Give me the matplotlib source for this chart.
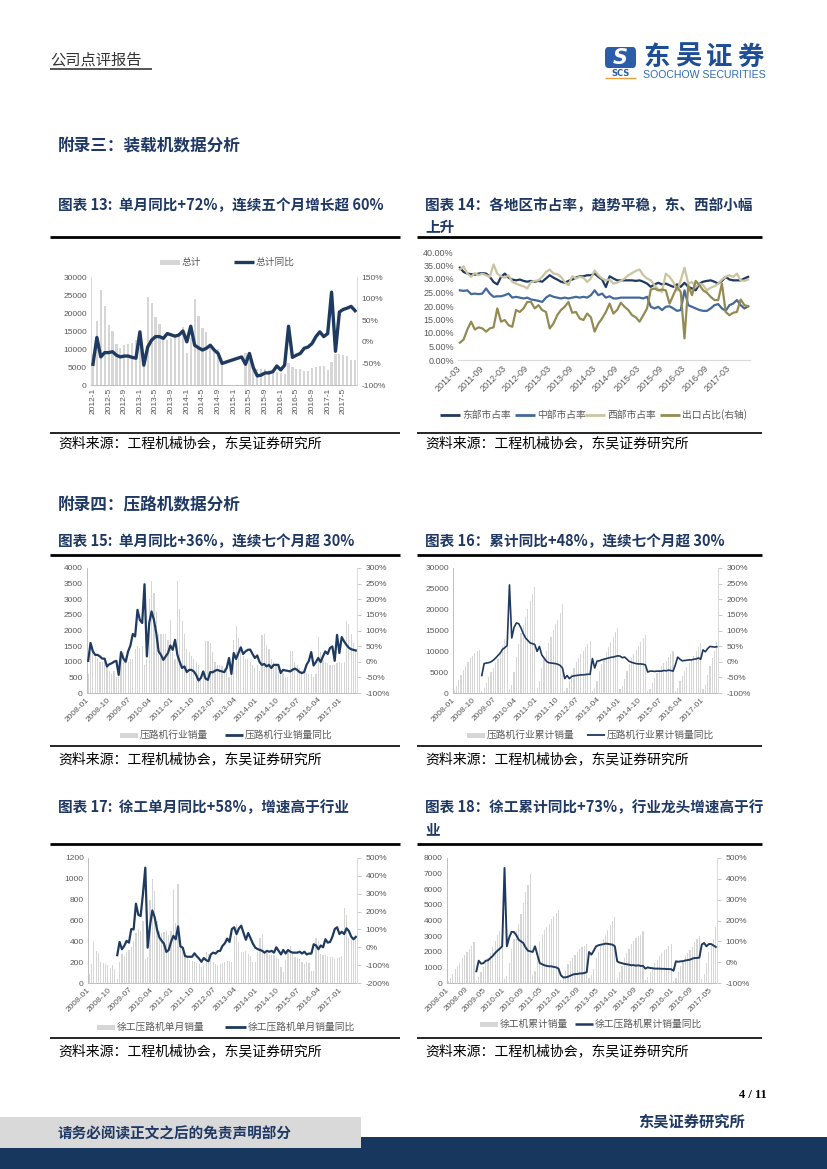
import numpy as np
import matplotlib
matplotlib.use('Agg')
import matplotlib.pyplot as plt
from matplotlib.patches import Rectangle, FancyBboxPatch
from matplotlib.lines import Line2D
from matplotlib.ticker import FuncFormatter

plt.rcParams['font.family'] = ['Noto Sans CJK SC', 'DejaVu Sans']
plt.rcParams['axes.unicode_minus'] = False

nan = np.nan

# ---------------- 数据 ----------------
# 图表13 装载机 2012-1 ~ 2017-8
total13 = [8500, 17800, 26300, 22000, 16600, 15000, 11500, 10400, 11000, 11300, 11700, 12500,
           10500, 8200, 24500, 22700, 19000, 17000, 13500, 12500, 13000, 13000, 14000, 16000,
           8800, 13000, 24000, 19200, 15700, 14800, 11000, 10000, 10000, 6500, nan, nan,
           nan, nan, nan, 8800, 7000, 6000, 4500, 4500, 4500, 4300, 4000, 3500,
           3300, 3000, 6000, 5000, 4500, 4500, 4000, 4000, 4700, 5000, 5300, 5400,
           4200, 6500, 8500, 8500, 8200, 8000, 7000, 7000]
yoy13 = [-52, 10, -35, -25, -25, -23, -31, -35, -33, -33, -36, -38,
         23, -54, -12, 4, 12, 12, 8, 19, 16, 13, 16, 25,
         0, 36, -8, -14, -19, -15, -8, -19, -27, -50, -47, -44,
         -41, -38, -35, -52, -27, -60, -79, -77, -72, -72, -69, -56,
         -65, -54, 36, -36, -31, -27, -15, -12, -4, 12, 23, 12,
         19, 115, -22, 69, 75, 78, 82, 72]
ticks13 = ['2012-1', '2012-5', '2012-9', '2013-1', '2013-5', '2013-9', '2014-1', '2014-5',
           '2014-9', '2015-1', '2015-5', '2015-9', '2016-1', '2016-5', '2016-9', '2017-1', '2017-5']

# 图表14 各地区市占率 2011-03 ~ 2017-08 (%)
east14 = [34.2, 32.6, 32.0, 31.8, 31.6, 32.0, 32.2, 32.0, 30.8, 28.9, 28.0, 30.8,
          32.0, 30.5, 29.8, 29.5, 29.8, 29.3, 29.0, 29.3, 29.0, 29.3, 29.0, 30.2,
          31.4, 30.5, 29.8, 29.0, 28.6, 29.3, 29.8, 30.5, 31.0, 31.0, 31.4, 31.4,
          32.0, 30.8, 29.8, 27.0, 31.0, 30.2, 29.5, 29.5, 29.5, 29.5, 29.5, 29.3,
          29.5, 29.0, 28.3, 27.1, 28.0, 28.6, 28.0, 28.3, 27.7, 27.1, 28.0, 27.1,
          28.6, 27.1, 26.5, 25.8, 28.3, 29.0, 29.3, 29.5, 29.0, 28.3, 29.3, 30.8,
          29.8, 29.5, 29.5, 29.5, 30.2, 30.8]
mid14 = [25.8, 25.6, 25.8, 24.4, 24.6, 24.4, 24.6, 26.5, 24.6, 23.4, 23.6, 23.6,
         24.0, 24.6, 23.1, 23.4, 23.1, 22.8, 23.1, 22.4, 22.2, 21.9, 21.5, 23.1,
         24.0, 23.4, 23.1, 22.8, 23.1, 22.8, 23.1, 23.4, 23.1, 23.4, 23.1, 24.0,
         25.8, 24.0, 24.6, 23.1, 23.6, 22.8, 22.8, 23.1, 23.1, 23.1, 23.1, 23.1,
         23.1, 22.8, 23.4, 19.7, 19.1, 19.7, 18.5, 19.7, 19.9, 19.1, 18.2, 18.5,
         25.8, 20.3, 19.7, 19.1, 18.5, 18.2, 18.2, 19.1, 20.3, 20.7, 19.1, 18.2,
         20.3, 20.9, 22.2, 20.3, 19.1, 19.9]
west14 = [33.5, 34.7, 32.0, 30.8, 32.2, 31.4, 32.0, 31.4, 30.8, 35.4, 32.0, 31.0,
          30.5, 31.4, 28.9, 28.3, 27.7, 27.3, 26.5, 28.9, 29.3, 29.5, 30.8, 32.6,
          33.5, 32.0, 31.8, 30.8, 28.9, 27.7, 31.0, 30.2, 30.8, 30.5, 28.9, 30.2,
          33.2, 31.4, 30.2, 29.5, 29.8, 28.3, 28.6, 29.3, 30.2, 31.4, 32.2, 33.0,
          33.5, 31.4, 30.2, 29.5, 27.7, 26.1, 25.2, 32.0, 30.8, 28.9, 25.8, 29.5,
          34.2, 28.3, 28.9, 27.1, 28.3, 27.7, 25.8, 26.8, 27.3, 28.3, 29.8, 30.8,
          31.4, 30.8, 32.0, 29.5, 29.3, 29.8]
export14 = [6.4, 7.6, 11.3, 14.2, 11.3, 12.1, 11.7, 10.5, 11.7, 12.1, 19.1, 14.2,
            14.8, 12.9, 12.3, 18.5, 17.8, 19.1, 21.5, 21.5, 19.1, 20.3, 18.5, 17.8,
            11.7, 13.5, 16.6, 18.5, 19.7, 21.5, 17.5, 17.8, 15.4, 14.8, 17.2, 15.8,
            10.5, 13.5, 15.4, 17.8, 20.9, 17.2, 18.5, 21.2, 19.7, 18.5, 16.6, 15.8,
            14.2, 16.6, 19.1, 26.1, 26.5, 25.8, 26.1, 25.8, 20.9, 24.0, 27.1, 25.2,
            8.0, 27.7, 24.0, 29.3, 27.7, 25.8, 24.9, 23.4, 22.2, 22.2, 28.3, 17.8,
            16.6, 17.5, 17.8, 22.4, 20.3, 19.9]
ticks14 = ['2011-03', '2011-09', '2012-03', '2012-09', '2013-03', '2013-09', '2014-03',
           '2014-09', '2015-03', '2015-09', '2016-03', '2016-09', '2017-03']
names14 = ['东部市占率', '中部市占率', '西部市占率', '出口占比(右轴)']

# 图表15 压路机行业单月销量 2008-01 ~ 2017-07
sales15 = [600, 1300, 1400, 1200, 1100, 1000, 1000, 1000, 900, 700, 600, 700,
           500, 700, 1300, 1300, 1200, 1000, 1100, 1100, 1400, 1500, 1450, 1500,
           900, 1100, 3000, 3600, 3200, 2600, 1900, 1900, 1900, 1900, 1700, 2350,
           1300, 1100, 3600, 2700, 2300, 1900, 1400, 1300, 1200, 1100, 1000, 900,
           500, 700, 1650, 1650, 1600, 1300, 1000, 900, 900, 850, 800, 700,
           500, 600, 1700, 2150, 1750, 1500, 1200, 1100, 1100, 1000, 900, 800,
           900, 700, 1850, 1900, 1550, 1400, 1100, 1000, 900, 800, 700, 650,
           500, 500, 1350, 1350, 1000, 900, 800, 700, 700, 650, 600, 600,
           500, 600, 1800, 1300, 1050, 1000, 950, 900, 900, 900, 950, 1000,
           950, 1000, 2300, 2200, 1900, 1600, 1400]
yoy15 = [3, 60, 33, 22, 22, 17, 10, 10, -15, -8, -5, 0,
         3, -42, 31, 10, 0, 33, 52, 89, 81, 166, 134, 124,
         248, 17, 124, 161, 134, 92, 33, 22, 6, 17, 28, 52,
         38, 70, 22, -1, -20, -15, -33, -26, -26, -31, -42, -60,
         -52, -31, -54, -58, -33, -34, -29, -26, -29, -31, -33, -20,
         12, -39, 28, 9, 28, 46, 25, 33, 38, 39, 25, 12,
         20, -1, -10, -7, -15, -10, -20, -10, -10, -10, -36, -26,
         -28, -29, -31, -26, -22, -26, -33, -36, -33, -10, 3, 31,
         -12, -1, 12, -1, 17, 33, 25, 44, 49, 3, 86, 28,
         79, 65, 54, 45, 40, 38, 36]
ticks9 = ['2008-01', '2008-10', '2009-07', '2010-04', '2011-01', '2011-10', '2012-07',
          '2013-04', '2014-01', '2014-10', '2015-07', '2016-04', '2017-01']

# 图表16 压路机行业累计销量
cum16 = [700, 1800, 3200, 4400, 5500, 6500, 7400, 8300, 9000, 9600, 10000, 10400,
         500, 1200, 2500, 3800, 5000, 6000, 7100, 8200, 9700, 11200, 13000, 15000,
         900, 2000, 5000, 8600, 11800, 14400, 16300, 18200, 20100, 22000, 23700, 25400,
         1300, 2800, 6000, 8700, 10000, 12000, 13500, 15200, 16500, 17600, 19200, 21400,
         500, 1200, 2900, 4500, 6100, 7400, 8400, 9300, 10200, 11000, 11800, 12500,
         600, 1300, 3000, 5200, 7000, 8500, 9800, 11000, 12200, 13400, 14600, 15600,
         900, 1600, 3400, 5300, 6900, 8300, 9400, 10400, 11300, 12200, 13100, 14000,
         500, 1000, 2300, 3700, 4700, 5600, 6400, 7100, 7800, 8600, 9400, 10200,
         500, 1100, 2900, 4200, 5200, 6200, 7200, 8100, 9000, 10000, 11000, 12000,
         1000, 2000, 4300, 6500, 8400, 10000, 12200]
yoy16 = [nan] * 12 + [
    -44, -6, -4, -3, 0, 5, 12, 20, 28, 40, 45, 52,
    246, 76, 110, 124, 122, 108, 90, 76, 68, 60, 58, 55,
    33, 49, 22, 12, 2, -3, -4, -5, -6, -8, -12, -20,
    -54, -44, -54, -47, -45, -44, -43, -42, -42, -41, -40, -40,
    10, -20, 2, 3, 6, 8, 10, 12, 14, 15, 17, 19,
    18, 13, 15, 8, 1, -2, -4, -6, -7, -7, -8, -10,
    -33, -30, -30, -31, -30, -30, -30, -28, -29, -27, -28, -30,
    -10, 15, 8, 3, 4, 5, 6, 6, 8, 9, 12, 8,
    38, 32, 42, 49, 48, 47, 48]

# 图表17 徐工压路机单月销量
sales17 = [90, 180, 400, 310, 290, 200, 195, 180, 170, 145, 170, 130,
           40, 200, 280, 260, 300, 320, 350, 400, 480, 520, 500, 600,
           230, 250, 800, 1000, 880, 600, 500, 480, 490, 500, 460, 500,
           900, 580, 950, 400, 300, 260, 240, 220, 210, 200, 190, 180,
           150, 170, 300, 280, 250, 200, 180, 170, 180, 190, 200, 210,
           210, 200, 450, 570, 380, 300, 300, 310, 280, 260, 200, 200,
           300, 430, 470, 300, 290, 270, 270, 270, 250, 230, 150, 110,
           220, 300, 357, 300, 250, 240, 230, 200, 180, 200, 190, 120,
           120, 430, 400, 280, 270, 270, 260, 250, 250, 230, 240, 250,
           260, 720, 650, 430, 420, 430, 440]
yoy17 = [nan] * 12 + [
    -44, 30, -11, 8, 36, 26, 102, 100, 244, 182, 175, 300,
    446, -2, 121, 206, 168, 100, 55, 36, 20, -26, -15, 30,
    64, 45, 117, 5, -2, -49, -53, -53, -53, -34, -50, -64,
    -81, -60, -72, -78, -40, -30, -35, -22, -20, 8, 22, 49,
    30, 102, 112, 74, 105, 121, 80, 42, 80, 50, 20, -2,
    -10, -15, -20, -30, -20, -25, -20, -30, 0, -20, -40, -15,
    -35, -15, -25, -30, -30, -30, -25, -35, -25, -40, -35, -35,
    17, 10, -11, 10, 0, 45, 26, 30, 60, 102, 112, 74,
    87, 74, 106, 92, 60, 45, 58]

# 图表18 徐工压路机累计销量
cum18 = [100, 300, 600, 900, 1100, 1300, 1600, 1800, 2000, 2200, 2400, 2600,
         150, 400, 700, 1000, 1300, 1600, 1900, 2300, 2700, 3100, 3300, 3500,
         250, 450, 1300, 2200, 2800, 3300, 3800, 4400, 5100, 5800, 6300, 7000,
         500, 800, 1700, 2700, 3100, 3400, 3600, 3800, 4100, 4300, 4500, 4700,
         200, 400, 800, 1200, 1400, 1600, 1800, 2000, 2200, 2300, 2400, 2500,
         300, 500, 900, 1600, 2000, 2400, 2800, 3100, 3400, 3700, 4000, 4200,
         350, 700, 1100, 1600, 1900, 2200, 2500, 2700, 2900, 3000, 3100, 3300,
         200, 400, 700, 1000, 1300, 1500, 1700, 1900, 2100, 2200, 2400, 2500,
         150, 350, 700, 1100, 1400, 1700, 1900, 2100, 2300, 2600, 2800, 3000,
         250, 600, 1300, 2000, 2400, 2800, 3600]
yoy18 = [nan] * 12 + [
    -44, 7, -7, -5, 7, 9, 20, 30, 44, 55, 65, 76,
    452, 76, 119, 145, 145, 130, 108, 100, 92, 70, 55, 52,
    49, 76, 35, -4, -10, -15, -18, -20, -20, -23, -25, -31,
    -63, -73, -73, -70, -65, -60, -57, -57, -54, -54, -52, -48,
    49, 36, 55, 76, 81, 84, 86, 89, 88, 86, 84, 76,
    4, -2, -5, -8, -10, -12, -15, -14, -17, -15, -18, -18,
    -31, -25, -28, -29, -31, -31, -31, -32, -32, -33, -33, -34,
    -41, 4, 2, 4, 5, 8, 10, 12, 17, 20, 20, 22,
    84, 92, 76, 87, 87, 80, 73]
ticks8 = ['2008-01', '2008-09', '2009-05', '2010-01', '2010-09', '2011-05', '2012-01', '2012-09',
          '2013-05', '2014-01', '2014-09', '2015-05', '2016-01', '2016-09', '2017-05']

# ---------------- 样式 ----------------
W, H = 827, 1169
NAVY = '#1F3A60'
BLUE = '#44699B'
BEIGE = '#CBC4A2'
OLIVE = '#948A54'
BAR = '#D6D6D6'
TXT = '#595959'
TITLE = '#1F3864'
AXIS = '#BFBFBF'
TICKFONT = ['Liberation Sans', 'DejaVu Sans']

fig = plt.figure(figsize=(W / 100, H / 100), dpi=100)


def fx(x):
    return x / W


def fy(y):
    return 1 - y / H


def put(x, y, s, size=10, weight='normal', color='black', ha='left', va='center', family=None, **kw):
    if family:
        kw['family'] = family
    fig.text(fx(x), fy(y), s, fontsize=size, fontweight=weight, color=color, ha=ha, va=va, **kw)


def hline(x0, x1, y, lw=1.0, color='black'):
    fig.add_artist(Line2D([fx(x0), fx(x1)], [fy(y), fy(y)], lw=lw, color=color, solid_capstyle='butt'))


def rect(x0, y0, x1, y1, color):
    fig.add_artist(Rectangle((fx(x0), fy(y1)), (x1 - x0) / W, (y1 - y0) / H, color=color, lw=0))


def add_ax(x0, y0, x1, y1):
    return fig.add_axes([fx(x0), fy(y1), (x1 - x0) / W, (y1 - y0) / H])


def leg_bar(x0, x1, y, label, size=7):
    rect(x0, y - 2.5, x1, y + 2.5, BAR)
    put(x1 + 2, y, label, size=size, color=TXT)


def leg_line(x0, x1, y, label, color=NAVY, lw=2.0, size=7):
    hline(x0, x1, y, lw=lw, color=color)
    put(x1 + 2, y, label, size=size, color=TXT)


def dual_chart(box, bars, line, lmax, lstep, rlim, rstep, ticks, step, rot, lw,
               bar_w=0.55, right_ticks=True, tsize=6):
    ax = add_ax(*box)
    n = len(bars)
    x = np.arange(n)
    b = np.array(bars, dtype=float)
    ok = ~np.isnan(b)
    ax.bar(x[ok], b[ok], width=bar_w, color=BAR, linewidth=0)
    ax.set_xlim(-0.5, n - 0.5)
    ax.set_ylim(0, lmax)
    ax.set_yticks(np.arange(0, lmax + 1, lstep))
    ax.set_xticks(np.arange(0, n, step)[:len(ticks)])
    if rot == 90:
        ax.set_xticklabels(ticks, rotation=90, ha='center', va='top')
    else:
        ax.set_xticklabels(ticks, rotation=45, ha='right', va='center', rotation_mode='anchor')
    ax2 = ax.twinx()
    ax2.plot(x, line, color=NAVY, lw=lw)
    ax2.set_xlim(-0.5, n - 0.5)
    ax2.set_ylim(*rlim)
    ax2.set_yticks(np.arange(rlim[0], rlim[1] + 1, rstep))
    ax2.yaxis.set_major_formatter(FuncFormatter(lambda v, p: f'{v:.0f}%'))
    for a in (ax, ax2):
        for s in a.spines.values():
            s.set_visible(False)
        a.tick_params(labelsize=tsize, labelcolor=TXT, labelfontfamily=TICKFONT, length=0, pad=3)
    ax.tick_params(axis='x', pad=4 if rot == 45 else 2)
    ax.spines['left'].set_visible(True)
    ax.spines['left'].set_color(AXIS)
    ax.spines['left'].set_linewidth(0.7)
    ax.spines['bottom'].set_visible(True)
    ax.spines['bottom'].set_color(AXIS)
    ax.spines['bottom'].set_linewidth(0.7)
    ax2.spines['right'].set_visible(True)
    ax2.spines['right'].set_color('#D9D9D9')
    ax2.spines['right'].set_linewidth(0.7)
    if right_ticks:
        ax2.tick_params(axis='y', length=3, width=0.6, color=AXIS)
    return ax, ax2


# ---------------- 页眉 ----------------
put(50, 60, '公司点评报告', size=11, color='#333333')
hline(50, 152, 69, lw=1.4, color='#555555')
fig.add_artist(FancyBboxPatch((fx(605), fy(68)), 31 / W, 21 / H,
                              boxstyle='round,pad=0,rounding_size=0.004', color='#2B5DA8', lw=0))
put(620.5, 57.5, 'S', size=15, weight='bold', color='white', ha='center', family='DejaVu Sans',
    style='italic')
put(620.5, 73, 'SCS', size=6, weight='bold', color='#2B5DA8', ha='center', family='DejaVu Sans')
hline(605, 636, 78, lw=1.0, color='#E8A040')
for ch, cx in zip('东吴证券', [657, 688, 719, 750]):
    put(cx, 57, ch, size=19, weight='bold', color='#1E4D96', ha='center')
put(643, 75, 'SOOCHOW SECURITIES', size=7.6, color='#2E6DB4', family=TICKFONT)

# ---------------- 标题 ----------------
put(58, 146, '附录三：装载机数据分析', size=12, weight='bold', color=TITLE)
put(58, 205, '图表 13:  单月同比+72%，连续五个月增长超 60%', size=10.5, weight='bold', color=TITLE)
put(425, 205, '图表 14：各地区市占率，趋势平稳，东、西部小幅', size=10.5, weight='bold', color=TITLE)
put(425, 227, '上升', size=10.5, weight='bold', color=TITLE)
hline(50, 400, 237, lw=2.0)
hline(417, 762, 237, lw=2.0)

put(58, 505, '附录四：压路机数据分析', size=12, weight='bold', color=TITLE)
put(58, 541, '图表 15:  单月同比+36%，连续七个月超 30%', size=10.5, weight='bold', color=TITLE)
put(425, 541, '图表 16：累计同比+48%，连续七个月超 30%', size=10.5, weight='bold', color=TITLE)
hline(50, 400, 555, lw=2.0)
hline(417, 762, 555, lw=2.0)

put(58, 807, '图表 17:  徐工单月同比+58%，增速高于行业', size=10.5, weight='bold', color=TITLE)
put(425, 807, '图表 18：徐工累计同比+73%，行业龙头增速高于行', size=10.5, weight='bold', color=TITLE)
put(425, 829, '业', size=10.5, weight='bold', color=TITLE)
hline(50, 400, 844, lw=2.0)
hline(417, 762, 844, lw=2.0)

src = '资料来源：工程机械协会，东吴证券研究所'
for yl, yt in [(433, 443), (746, 759), (1038, 1051)]:
    hline(50, 400, yl, lw=1.2)
    hline(417, 762, yl, lw=1.2)
    put(58, yt, src, size=10)
    put(425, yt, src, size=10)

# ---------------- 图表13 ----------------
ax13, ax13r = dual_chart((91, 277, 357, 385), total13, yoy13, 30000, 5000, (-100, 150), 50,
                         ticks13, 4, 90, 2.4, bar_w=0.55, right_ticks=False)
ax13.spines['left'].set_color('#D9D9D9')
leg_bar(160, 180, 262, '总计')
leg_line(234, 254, 262, '总计同比', lw=2.4)

# ---------------- 图表14 ----------------
ax14 = add_ax(458, 252, 750, 360)
x14 = np.arange(len(east14))
for ser, col in zip([east14, mid14, west14, export14], [NAVY, BLUE, BEIGE, OLIVE]):
    ax14.plot(x14, ser, color=col, lw=1.6)
ax14.set_xlim(-0.5, len(east14) - 0.5)
ax14.set_ylim(0, 40)
ax14.set_yticks(np.arange(0, 41, 5))
ax14.yaxis.set_major_formatter(FuncFormatter(lambda v, p: f'{v:.2f}%'))
ax14.set_xticks(np.arange(0, len(east14), 6)[:len(ticks14)])
ax14.set_xticklabels(ticks14, rotation=45, ha='right', va='center', rotation_mode='anchor')
for s in ax14.spines.values():
    s.set_visible(False)
ax14.spines['bottom'].set_visible(True)
ax14.spines['bottom'].set_color('#D9D9D9')
ax14.tick_params(labelsize=6.5, labelcolor=TXT, labelfontfamily=TICKFONT, length=0, pad=3)
ax14.tick_params(axis='x', pad=5)
leg_x = [(440, 460), (515, 535), (585, 605), (660, 680)]
for (a, b), name, col in zip(leg_x, names14, [NAVY, BLUE, BEIGE, OLIVE]):
    leg_line(a, b, 415, name, color=col, lw=2.0)

# ---------------- 图表15 ----------------
dual_chart((87, 568, 357, 693), sales15, yoy15, 4000, 500, (-100, 300), 50,
           ticks9, 9, 45, 1.6, bar_w=0.5)
leg_bar(120, 138, 735, '压路机行业销量')
leg_line(225, 243, 735, '压路机行业销量同比', lw=2.0)

# ---------------- 图表16 ----------------
dual_chart((453, 568, 718, 693), cum16, yoy16, 30000, 5000, (-100, 300), 50,
           ticks9, 9, 45, 1.2, bar_w=0.5)
leg_bar(467, 485, 735, '压路机行业累计销量')
leg_line(587, 605, 735, '压路机行业累计销量同比', lw=1.3)

# ---------------- 图表17 ----------------
dual_chart((88, 858, 357, 983), sales17, yoy17, 1200, 200, (-200, 500), 100,
           ticks9, 9, 45, 1.6, bar_w=0.5)
leg_bar(97, 115, 1027, '徐工压路机单月销量')
leg_line(225, 246, 1027, '徐工压路机单月销量同比', lw=2.0)

# ---------------- 图表18 ----------------
dual_chart((447, 858, 717, 983), cum18, yoy18, 8000, 1000, (-100, 500), 100,
           ticks8, 8, 45, 1.4, bar_w=0.5)
leg_bar(480, 498, 1024, '徐工机累计销量')
leg_line(575, 593, 1024, '徐工压路机累计销量同比', lw=1.8)

# ---------------- 页脚 ----------------
put(767, 1095, '4 / 11', size=9, weight='bold', ha='right', family=['Liberation Serif', 'DejaVu Serif'])
put(745, 1122, '东吴证券研究所', size=11, weight='bold', color=TITLE, ha='right')
rect(0, 1137, 827, 1169, '#17375E')
rect(0, 1117, 361, 1148, '#D9D9D9')
put(58, 1133, '请务必阅读正文之后的免责声明部分', size=10.5, weight='bold', color=TITLE)

fig.savefig('out.png', dpi=100)
